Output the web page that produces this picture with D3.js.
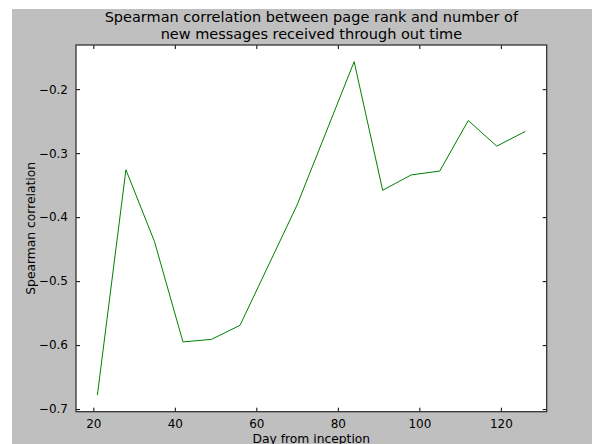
<!DOCTYPE html>
<html>
<head>
<meta charset="utf-8">
<script src="https://cdn.jsdelivr.net/npm/d3@7"></script>
<style>
  html, body { margin: 0; padding: 0; background: #ffffff; }
  svg { display: block; }
  text { font-family: "DejaVu Sans", sans-serif; fill: #000; }
</style>
</head>
<body>
<svg id="chart" width="592" height="444"></svg>
<script>
// Data
const days = [21, 28, 35, 42, 49, 56, 70, 84, 91, 98, 105, 112, 119, 126];
const correlation = [-0.678, -0.326, -0.438, -0.595, -0.591, -0.569, -0.381, -0.157, -0.358, -0.334, -0.328, -0.249, -0.289, -0.266];
const xTicks = [20, 40, 60, 80, 100, 120];
const yTicks = [-0.7, -0.6, -0.5, -0.4, -0.3, -0.2];
const titleLines = ["Spearman correlation between page rank and number of", "new messages received through out time"];
const xLabel = "Day from inception";
const yLabel = "Spearman correlation";

const svg = d3.select("#chart");
const W = 592, H = 444;
const fig = {x: 12, y: 9};
const plot = {left: 76, top: 45, right: 546.7, bottom: 411.7};

// figure background
svg.append("rect").attr("x", fig.x).attr("y", fig.y)
  .attr("width", W - fig.x).attr("height", H - fig.y).attr("fill", "#bfbfbf");

// axes background
svg.append("rect").attr("x", plot.left).attr("y", plot.top)
  .attr("width", plot.right - plot.left).attr("height", plot.bottom - plot.top)
  .attr("fill", "#ffffff");

// scales with 5% margins like matplotlib
const xMin = d3.min(days), xMax = d3.max(days);
const xPad = (xMax - xMin) * 0.05;
const yMin = d3.min(correlation), yMax = d3.max(correlation);
const yPad = (yMax - yMin) * 0.05;
const x = d3.scaleLinear().domain([xMin - xPad, xMax + xPad]).range([plot.left, plot.right]);
const y = d3.scaleLinear().domain([yMin - yPad, yMax + yPad]).range([plot.bottom, plot.top]);

const fmtY = v => d3.format(".1f")(v).replace("-", "\u2212");
const tickLen = 4;
const tickColor = "#000";

// x ticks (bottom and top, inward) via d3 axes
const xAxisB = d3.axisBottom(x).tickValues(xTicks).tickSizeInner(-tickLen).tickSizeOuter(0).tickPadding(8).tickFormat(d3.format("d"));
const gxb = svg.append("g").attr("transform", `translate(0,${plot.bottom})`).call(xAxisB);
gxb.select(".domain").remove();
gxb.selectAll("line").attr("stroke", tickColor).attr("stroke-width", 1);
gxb.selectAll("text").attr("font-size", 12).attr("font-family", "DejaVu Sans").attr("fill", "#000");

const xAxisT = d3.axisTop(x).tickValues(xTicks).tickSizeInner(-tickLen).tickSizeOuter(0).tickFormat("");
const gxt = svg.append("g").attr("transform", `translate(0,${plot.top})`).call(xAxisT);
gxt.select(".domain").remove();
gxt.selectAll("line").attr("stroke", tickColor).attr("stroke-width", 1);

// y ticks (left and right, inward)
const yAxisL = d3.axisLeft(y).tickValues(yTicks).tickSizeInner(-tickLen).tickSizeOuter(0).tickPadding(8).tickFormat(fmtY);
const gyl = svg.append("g").attr("transform", `translate(${plot.left},0)`).call(yAxisL);
gyl.select(".domain").remove();
gyl.selectAll("line").attr("stroke", tickColor).attr("stroke-width", 1);
gyl.selectAll("text").attr("font-size", 12).attr("font-family", "DejaVu Sans").attr("fill", "#000");

const yAxisR = d3.axisRight(y).tickValues(yTicks).tickSizeInner(-tickLen).tickSizeOuter(0).tickFormat("");
const gyr = svg.append("g").attr("transform", `translate(${plot.right},0)`).call(yAxisR);
gyr.select(".domain").remove();
gyr.selectAll("line").attr("stroke", tickColor).attr("stroke-width", 1);

// data line
const line = d3.line().x((d, i) => x(days[i])).y(d => y(d));
svg.append("path").datum(correlation)
  .attr("d", line).attr("fill", "none")
  .attr("stroke", "#008000").attr("stroke-width", 1);

// spines
svg.append("rect").attr("x", plot.left).attr("y", plot.top)
  .attr("width", plot.right - plot.left).attr("height", plot.bottom - plot.top)
  .attr("fill", "none").attr("stroke", "#333").attr("stroke-width", 1.3);

// title (two lines)
const cx = (plot.left + plot.right) / 2;
titleLines.forEach((t, i) => {
  svg.append("text").attr("x", cx).attr("y", i === 0 ? 22 : 38.5).attr("text-anchor", "middle")
    .attr("font-size", 14.5).text(t);
});

// axis labels
svg.append("text").attr("x", cx).attr("y", 442.5).attr("text-anchor", "middle")
  .attr("font-size", 12.3).text(xLabel);
svg.append("text").attr("transform", `translate(35,${(plot.top + plot.bottom) / 2}) rotate(-90)`)
  .attr("text-anchor", "middle").attr("font-size", 12.3).text(yLabel);
</script>
</body>
</html>
